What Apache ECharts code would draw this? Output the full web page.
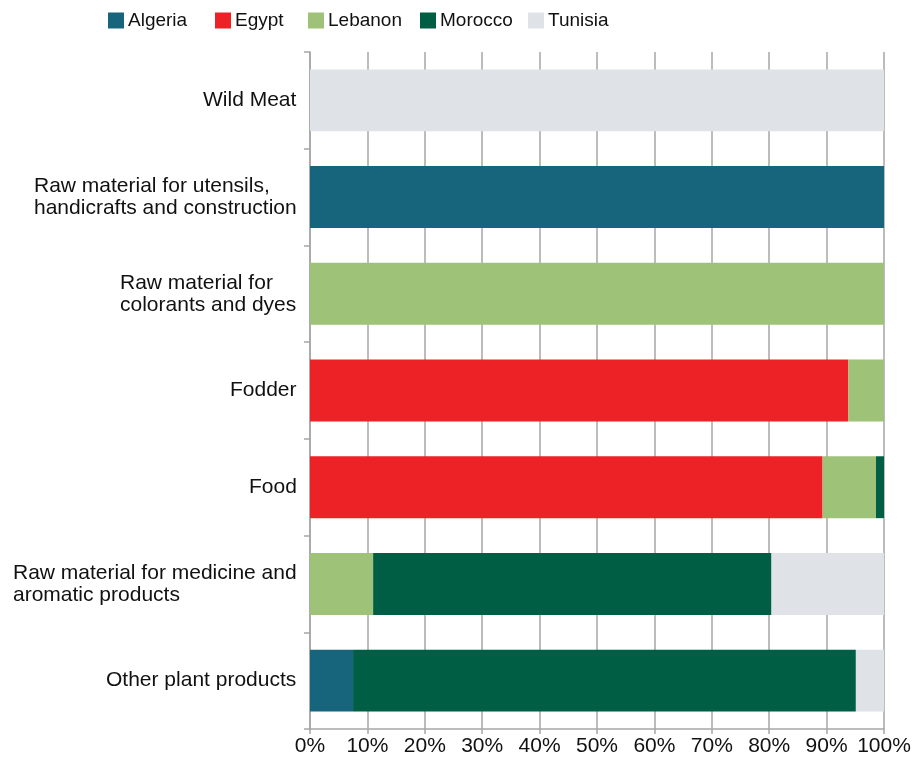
<!DOCTYPE html>
<html><head><meta charset="utf-8">
<script src="https://cdn.jsdelivr.net/npm/echarts@6/dist/echarts.min.js"></script>
<style>html,body{margin:0;padding:0;background:#fff}#c{width:918px;height:757px}</style>
</head><body><div id="c"></div>
<script>
const categories = ['Other plant products','Raw material for medicine and\naromatic products','Food','Fodder','Raw material for\ncolorants and dyes','Raw material for utensils,\nhandicrafts and construction','Wild Meat'];
const seriesNames = ['Algeria','Egypt','Lebanon','Morocco','Tunisia'];
const algeria = [7.5, 0, 0, 0, 0, 100, 0];
const egypt   = [0, 0, 89.3, 93.8, 0, 0, 0];
const lebanon = [0, 11.0, 9.3, 6.2, 100, 0, 0];
const morocco = [87.6, 69.4, 1.4, 0, 0, 0, 0];
const tunisia = [4.9, 19.6, 0, 0, 0, 0, 100];
const xTicks = [0,10,20,30,40,50,60,70,80,90,100];
const colors = ['#17657d','#ed2227','#9ec277','#005e45','#dfe2e7'];
const values = [algeria, egypt, lebanon, morocco, tunisia];
const font = 'Liberation Sans, Arial, sans-serif';
const legendLeft = [108, 215, 308, 420, 528];

// measure label widths so multi-line labels are left-aligned inside a right-aligned block
const cv = document.createElement('canvas').getContext('2d');
cv.font = '21px "Liberation Sans", Arial, sans-serif';
const rich = {};
categories.forEach((c,i)=>{
  const w = Math.max(...c.split('\n').map(l=>cv.measureText(l).width));
  rich['r'+i] = {width:Math.ceil(w), align:'left', fontFamily:font, fontSize:21, lineHeight:22, color:'#111'};
});

const chart = echarts.init(document.getElementById('c'));
chart.setOption({
  animation:false,
  color: colors,
  legend: seriesNames.map((n,i)=>({top:11,left:legendLeft[i],itemWidth:16,itemHeight:16,itemGap:0,icon:'rect',padding:0,
    textStyle:{fontFamily:font,fontSize:19,color:'#111',padding:[0,0,0,-1]},data:[n]})),
  grid:{left:310,right:34,top:52,bottom:27,containLabel:false},
  xAxis:{type:'value',min:0,max:100,interval:10,
    axisLine:{show:true,lineStyle:{color:'#a6a6a6',width:1.5}},
    axisTick:{show:true,length:5,lineStyle:{color:'#a6a6a6',width:1.5}},
    splitLine:{show:true,lineStyle:{color:'#a6a6a6',width:1.5}},
    axisLabel:{fontFamily:font,fontSize:21,color:'#111',margin:7,formatter:v=>v+'%'}},
  yAxis:{type:'category',data:categories,
    axisLine:{show:true,lineStyle:{color:'#a6a6a6',width:1.5}},
    axisTick:{show:true,length:6,lineStyle:{color:'#a6a6a6',width:1.5}},
    axisLabel:{fontFamily:font,fontSize:21,color:'#111',margin:13,lineHeight:22,align:'right',
      rich: rich,
      formatter:(v,idx)=>v.split('\n').map(l=>'{r'+idx+'|'+l+'}').join('\n')}},
  series: seriesNames.map((n,i)=>({name:n,type:'bar',stack:'all',barWidth:'64%',
    data: values[i],itemStyle:{color:colors[i]}}))
});
</script></body></html>
